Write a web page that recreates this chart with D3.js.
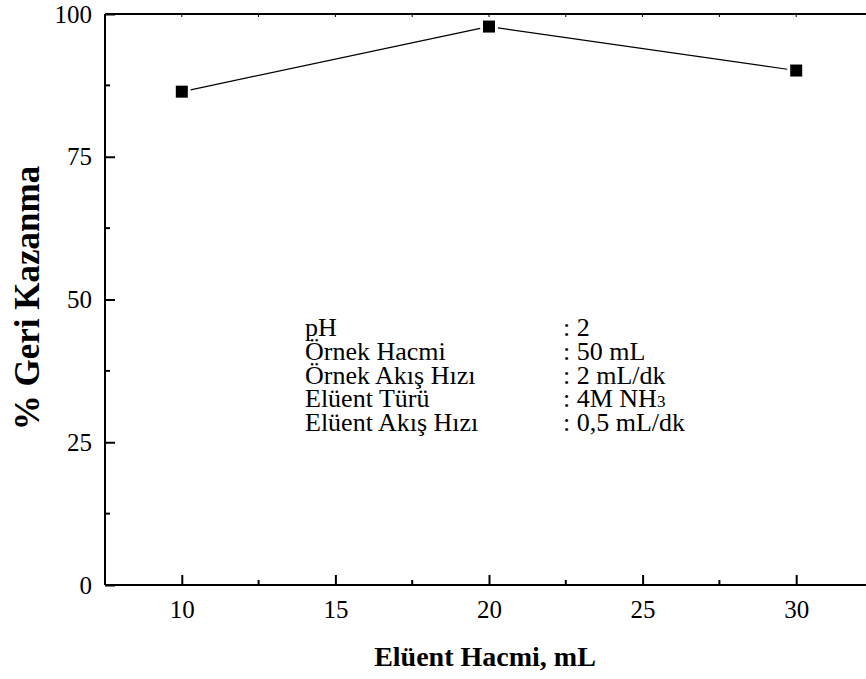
<!DOCTYPE html>
<html>
<head>
<meta charset="utf-8">
<script src="https://cdn.jsdelivr.net/npm/d3@7"></script>
<style>
  html, body { margin: 0; padding: 0; background: #fff; }
  svg { display: block; }
  svg text { font-family: "Liberation Serif", "Times New Roman", Times, serif !important; fill: #000; }
</style>
</head>
<body>
<svg id="chart" width="866" height="679"></svg>
<script>
// ---- data ----
const volumes = [10, 20, 30];            // Elüent Hacmi, mL
const recovery = [86.4, 97.8, 90.1];     // % Geri Kazanma
const xTicks = [10, 15, 20, 25, 30];
const xMinorTicks = [12.5, 17.5, 22.5, 27.5];
const yTicks = [0, 25, 50, 75, 100];
const yMinorTicks = [12.5, 37.5, 62.5, 87.5];
const infoLabels = ["pH", "Örnek Hacmi", "Örnek Akış Hızı", "Elüent Türü", "Elüent Akış Hızı"];
const infoValues = [": 2", ": 50 mL", ": 2 mL/dk", ": 4M NH|3", ": 0,5 mL/dk"];

const FONT = "Liberation Serif";
const svg = d3.select("#chart");
const L = 105, R = 873, T = 14, B = 585;

const x = d3.scaleLinear().domain([7.5, 32.5]).range([L, R]);
const y = d3.scaleLinear().domain([0, 100]).range([B, T]);

// frame lines
const frame = svg.append("g").attr("stroke", "#000").attr("stroke-width", 2).attr("fill", "none");
frame.append("line").attr("x1", L).attr("x2", R).attr("y1", B).attr("y2", B);
frame.append("line").attr("x1", L).attr("x2", R).attr("y1", T).attr("y2", T);
frame.append("line").attr("x1", L).attr("x2", L).attr("y1", T).attr("y2", B);
frame.append("line").attr("x1", R).attr("x2", R).attr("y1", T).attr("y2", B);

// bottom axis
const xAxis = d3.axisBottom(x).tickValues(xTicks).tickSizeInner(-10).tickSizeOuter(0).tickPadding(15).tickFormat(d3.format("d"));
const gx = svg.append("g").attr("transform", `translate(0,${B})`).call(xAxis)
  .attr("font-family", FONT).attr("font-size", 25);
gx.select(".domain").remove();
gx.selectAll(".tick line").attr("stroke-width", 2);
svg.append("g").selectAll("line").data(xMinorTicks).join("line")
  .attr("x1", d => x(d)).attr("x2", d => x(d)).attr("y1", B).attr("y2", B - 5)
  .attr("stroke", "#000").attr("stroke-width", 2);

// top axis tiny ticks
svg.append("g").selectAll("line").data(xTicks.concat(xMinorTicks)).join("line")
  .attr("x1", d => x(d)).attr("x2", d => x(d)).attr("y1", T).attr("y2", T + 3)
  .attr("stroke", "#000").attr("stroke-width", 1);

// left axis
const yAxis = d3.axisLeft(y).tickValues(yTicks).tickSizeInner(-10).tickSizeOuter(0).tickPadding(13).tickFormat(d3.format("d"));
const gy = svg.append("g").attr("transform", `translate(${L},0)`).call(yAxis)
  .attr("font-family", FONT).attr("font-size", 25);
gy.select(".domain").remove();
gy.selectAll(".tick line").attr("stroke-width", 2);
svg.append("g").selectAll("line").data(yMinorTicks).join("line")
  .attr("x1", L).attr("x2", L + 5).attr("y1", d => y(d)).attr("y2", d => y(d))
  .attr("stroke", "#000").attr("stroke-width", 2);

// line segments with gaps near markers
const pts = volumes.map((v, i) => [x(v), y(recovery[i])]);
const gap = 9;
const segs = [];
for (let i = 0; i < pts.length - 1; i++) {
  const [x1, y1] = pts[i], [x2, y2] = pts[i + 1];
  const len = Math.hypot(x2 - x1, y2 - y1);
  const ux = (x2 - x1) / len, uy = (y2 - y1) / len;
  segs.push([x1 + ux * gap, y1 + uy * gap, x2 - ux * gap, y2 - uy * gap]);
}
svg.append("g").selectAll("line").data(segs).join("line")
  .attr("x1", d => d[0]).attr("y1", d => d[1]).attr("x2", d => d[2]).attr("y2", d => d[3])
  .attr("stroke", "#000").attr("stroke-width", 1.2);

// markers
const ms = 12;
svg.append("g").selectAll("rect").data(volumes).join("rect")
  .attr("x", d => x(d) - ms / 2)
  .attr("y", (d, i) => y(recovery[i]) - ms / 2)
  .attr("width", ms).attr("height", ms).attr("fill", "#000");

// info text block
const info = svg.append("g").attr("font-family", FONT).attr("font-size", 26);
infoLabels.forEach((lab, i) => {
  const by = 336 + i * 23.8;
  info.append("text").attr("x", 305).attr("y", by).text(lab);
  const t = info.append("text").attr("x", 563).attr("y", by);
  const parts = infoValues[i].split("|");
  t.append("tspan").text(parts[0]);
  if (parts[1]) t.append("tspan").attr("font-size", 17).text(parts[1]);
});

// axis titles
svg.append("text").attr("x", 485).attr("y", 666).attr("text-anchor", "middle")
  .attr("font-family", FONT).attr("font-size", 28).attr("font-weight", "bold").text("Elüent Hacmi, mL");
svg.append("text").attr("transform", "translate(39,298) rotate(-90)").attr("text-anchor", "middle")
  .attr("font-family", FONT).attr("font-size", 35).attr("font-weight", "bold").text("% Geri Kazanma");
</script>
</body>
</html>
